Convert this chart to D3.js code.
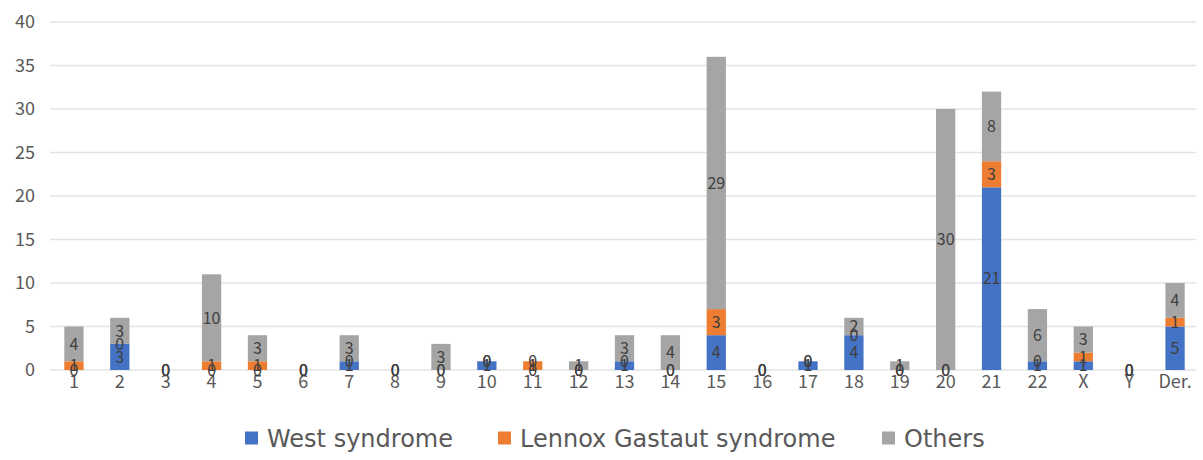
<!DOCTYPE html>
<html>
<head>
<meta charset="utf-8">
<script src="https://cdn.jsdelivr.net/npm/d3@7"></script>
<style>
  body { margin: 0; background: #fff; }
  svg { display: block; }
</style>
</head>
<body>
<svg id="chart" width="1203" height="460"></svg>
<script>
// ========================
// Data
// ========================
const categories = ["1","2","3","4","5","6","7","8","9","10","11","12","13","14","15","16","17","18","19","20","21","22","X","Y","Der."];
const westSyndrome = [0,3,0,0,0,0,1,0,0,1,0,0,1,0,4,0,1,4,0,0,21,1,1,0,5];
const lennoxGastaut = [1,0,0,1,1,0,0,0,0,0,1,0,0,0,3,0,0,0,0,0,3,0,1,0,1];
const others = [4,3,0,10,3,0,3,0,3,0,0,1,3,4,29,0,0,2,1,30,8,6,3,0,4];
const seriesNames = ["West syndrome", "Lennox Gastaut syndrome", "Others"];
const yTicks = [0,5,10,15,20,25,30,35,40];

const colors = ["#4472C4", "#ED7D31", "#A5A5A5"];
const font = "'Noto Sans CJK JP', 'Noto Sans', sans-serif";
const legendFont = "'DejaVu Sans', sans-serif";

// ========================
// Setup
// ========================
const svg = d3.select("#chart");

const x = d3.scaleBand()
    .domain(categories)
    .range([51, 1198])
    .paddingInner(0.58)
    .paddingOuter(0.29);

const y = d3.scaleLinear()
    .domain([0, 40])
    .range([370, 22]);

const rows = categories.map((c, i) => ({
    cat: c,
    "West syndrome": westSyndrome[i],
    "Lennox Gastaut syndrome": lennoxGastaut[i],
    "Others": others[i]
}));

const stacked = d3.stack().keys(seriesNames)(rows);

// Gridlines
svg.append("g")
    .selectAll("line")
    .data(yTicks)
    .join("line")
    .attr("x1", 50)
    .attr("x2", 1196)
    .attr("y1", d => y(d))
    .attr("y2", d => y(d))
    .attr("stroke", "#E3E3E3")
    .attr("stroke-width", 1.3);

// Y tick labels
svg.append("g")
    .selectAll("text")
    .data(yTicks)
    .join("text")
    .attr("x", 35)
    .attr("y", d => y(d))
    .attr("dy", "0.36em")
    .attr("text-anchor", "end")
    .style("font-family", font)
    .style("font-size", "18px")
    .attr("fill", "#595959")
    .text(d => d);

// X labels
svg.append("g")
    .selectAll("text")
    .data(categories)
    .join("text")
    .attr("x", d => x(d) + x.bandwidth() / 2)
    .attr("y", 388)
    .attr("text-anchor", "middle")
    .style("font-family", font)
    .style("font-size", "18px")
    .attr("fill", "#595959")
    .text(d => d);

// Bars
const layers = svg.append("g")
    .selectAll("g")
    .data(stacked)
    .join("g")
    .attr("fill", (d, i) => colors[i]);

layers.selectAll("rect")
    .data(d => d)
    .join("rect")
    .attr("x", d => x(d.data.cat))
    .attr("width", x.bandwidth())
    .attr("y", d => y(d[1]))
    .attr("height", d => y(d[0]) - y(d[1]));

// Data labels (centered in each segment, zeros included)
const labels = svg.append("g");
stacked.forEach(layer => {
    labels.selectAll(null)
        .data(layer)
        .join("text")
        .attr("x", d => x(d.data.cat) + x.bandwidth() / 2)
        .attr("y", d => y((d[0] + d[1]) / 2))
        .attr("dy", "0.36em")
        .attr("text-anchor", "middle")
        .style("font-family", font)
        .style("font-size", "16px")
        .attr("fill", "#404040")
        .text(d => d[1] - d[0]);
});

// Legend
const legendItems = [
    { name: seriesNames[0], x: 245 },
    { name: seriesNames[1], x: 498 },
    { name: seriesNames[2], x: 882 }
];

const legend = svg.append("g")
    .selectAll("g")
    .data(legendItems)
    .join("g")
    .attr("transform", d => `translate(${d.x}, 438)`);

legend.append("rect")
    .attr("x", 0)
    .attr("y", -6.5)
    .attr("width", 13)
    .attr("height", 13)
    .attr("fill", (d, i) => colors[i]);

legend.append("text")
    .attr("x", 22)
    .attr("dy", "0.36em")
    .style("font-family", legendFont)
    .style("font-size", "24px")
    .attr("fill", "#595959")
    .text(d => d.name);
</script>
</body>
</html>
